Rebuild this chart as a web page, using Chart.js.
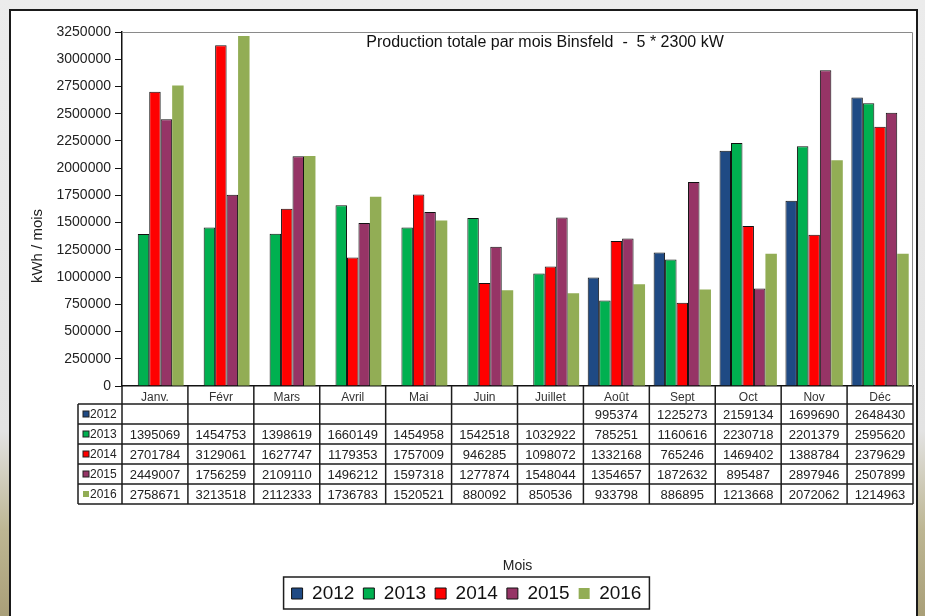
<!DOCTYPE html>
<html lang="fr">
<head>
<meta charset="utf-8">
<title>Production totale par mois Binsfeld</title>
<script src="https://cdn.jsdelivr.net/npm/chart.js@4.4.1/dist/chart.umd.min.js"></script>
<style>
  html, body { margin: 0; padding: 0; }
  body {
    width: 925px; height: 616px; overflow: hidden; position: relative;
    background: linear-gradient(to bottom, #ececec 0%, #e3e3e3 70%, #bdb693 86%, #a99f78 100%);
  }
  #panel {
    position: absolute; left: 9px; top: 9px; width: 905px; height: 620px;
    background: #fff; border: 2px solid #1a1a1a;
  }
  #chart { position: absolute; left: 0; top: 0; }
</style>
</head>
<body>
<div id="panel"></div>
<canvas id="chart" width="925" height="616"></canvas>
<script>
const months = ['Janv.', 'Févr', 'Mars', 'Avril', 'Mai', 'Juin', 'Juillet', 'Août', 'Sept', 'Oct', 'Nov', 'Déc'];
const years = ['2012', '2013', '2014', '2015', '2016'];

const prod2012 = [null, null, null, null, null, null, null, 995374, 1225273, 2159134, 1699690, 2648430];
const prod2013 = [1395069, 1454753, 1398619, 1660149, 1454958, 1542518, 1032922, 785251, 1160616, 2230718, 2201379, 2595620];
const prod2014 = [2701784, 3129061, 1627747, 1179353, 1757009, 946285, 1098072, 1332168, 765246, 1469402, 1388784, 2379629];
const prod2015 = [2449007, 1756259, 2109110, 1496212, 1597318, 1277874, 1548044, 1354657, 1872632, 895487, 2897946, 2507899];
const prod2016 = [2758671, 3213518, 2112333, 1736783, 1520521, 880092, 850536, 933798, 886895, 1213668, 2072062, 1214963];

const yTicksMax = 3250000;
const yTicksStep = 250000;

const chartTitle = 'Production totale par mois Binsfeld  -  5 * 2300 kW';
const yTitle = 'kWh / mois';
const xTitle = 'Mois';

const seriesValues = [prod2012, prod2013, prod2014, prod2015, prod2016];
const seriesColors = ['#1f4a84', '#00b050', '#ff0000', '#963466', '#92ad55'];
const FONT = '"Liberation Sans", Arial, sans-serif';

// table under the plot, title and legend frame
const tablePlugin = {
    id: 'dataTable',
    beforeDatasetsDraw(chart) {
        const { ctx, chartArea: a } = chart;
        ctx.save();
        ctx.strokeStyle = '#8a8a8a';
        ctx.lineWidth = 1;
        ctx.beginPath();
        ctx.moveTo(a.left, a.top + 0.5);
        ctx.lineTo(a.right - 0.5, a.top + 0.5);
        ctx.lineTo(a.right - 0.5, a.bottom);
        ctx.stroke();
        ctx.restore();
    },
    afterDraw(chart) {
        const { ctx, chartArea: a } = chart;
        const x = chart.scales.x;
        const cellW = (a.right - a.left) / months.length;
        const headH = 18;
        const rowH = 20;
        const labelLeft = 78;
        const rowsTop = a.bottom + headH;
        const bottom = rowsTop + rowH * years.length;

        ctx.save();
        ctx.strokeStyle = '#1e1e1e';
        ctx.lineWidth = 1.5;
        ctx.beginPath();
        for (let r = 0; r <= years.length; r++) {
            const y = rowsTop + r * rowH;
            ctx.moveTo(labelLeft, y);
            ctx.lineTo(a.right, y);
        }
        for (let i = 0; i <= months.length; i++) {
            const xx = i < months.length
                ? x.getPixelForValue(i) - cellW / 2
                : x.getPixelForValue(months.length - 1) + cellW / 2;
            ctx.moveTo(xx, a.bottom);
            ctx.lineTo(xx, bottom);
        }
        ctx.moveTo(labelLeft, rowsTop);
        ctx.lineTo(labelLeft, bottom);
        ctx.stroke();

        ctx.textBaseline = 'middle';
        years.forEach((year, r) => {
            const cy = rowsTop + r * rowH + rowH / 2 + 1;
            // small key square
            ctx.fillStyle = seriesColors[r];
            ctx.fillRect(labelLeft + 5, cy - 4, 6, 6);
            if (r < 4) {
                ctx.strokeStyle = '#222';
                ctx.lineWidth = 1;
                ctx.strokeRect(labelLeft + 5, cy - 4, 6, 6);
            }
            ctx.fillStyle = '#222';
            ctx.font = '12px ' + FONT;
            ctx.textAlign = 'left';
            ctx.fillText(year, labelLeft + 12, cy);

            ctx.font = '13px ' + FONT;
            ctx.textAlign = 'center';
            seriesValues[r].forEach((v, i) => {
                if (v === null) return;
                ctx.fillText(String(v), x.getPixelForValue(i), cy);
            });
        });

        // chart title inside the plot
        ctx.fillStyle = '#111';
        ctx.font = '16px ' + FONT;
        ctx.textAlign = 'center';
        ctx.fillText(chartTitle, 545, 43);

        // y axis title
        ctx.save();
        ctx.translate(38, 246);
        ctx.rotate(-Math.PI / 2);
        ctx.font = '15px ' + FONT;
        ctx.fillStyle = '#222';
        ctx.fillText(yTitle, 0, 0);
        ctx.restore();

        // frame round the legend
        const boxes = chart.legend.legendHitBoxes;
        if (boxes && boxes.length) {
            const left = boxes[0].left - 8;
            const last = boxes[boxes.length - 1];
            const right = last.left + last.width + 8;
            ctx.strokeStyle = '#1e1e1e';
            ctx.lineWidth = 1.5;
            ctx.strokeRect(left, 577, right - left, 32);
        }
        ctx.restore();
    }
};

const ctx = document.getElementById('chart').getContext('2d');

new Chart(ctx, {
    type: 'bar',
    data: {
        labels: months,
        datasets: years.map((year, k) => ({
            label: year,
            data: seriesValues[k],
            backgroundColor: seriesColors[k],
            borderColor: '#111',
            borderWidth: k < 4 ? 1 : 0,
            categoryPercentage: 0.87,
            barPercentage: 1
        }))
    },
    options: {
        responsive: false,
        animation: false,
        devicePixelRatio: 1,
        layout: { padding: { left: 20, right: 12, top: 32, bottom: 3 } },
        plugins: {
            title: { display: false },
            tooltip: { enabled: false },
            legend: {
                position: 'bottom',
                labels: {
                    boxWidth: 11,
                    boxHeight: 11,
                    padding: 9,
                    color: '#111',
                    font: { family: FONT, size: 19 }
                }
            }
        },
        scales: {
            x: {
                afterFit(scale) { scale.height = 189; },
                grid: { display: false, drawTicks: false },
                border: { display: true, color: '#111', width: 1.5 },
                ticks: {
                    padding: 4,
                    maxRotation: 0,
                    autoSkip: false,
                    color: '#333',
                    font: { family: FONT, size: 12 }
                },
                title: {
                    display: true,
                    text: xTitle,
                    color: '#222',
                    padding: { top: 0, bottom: 0 },
                    font: { family: FONT, size: 14 }
                }
            },
            y: {
                min: 0,
                max: yTicksMax,
                afterFit(scale) { scale.width = 102; },
                grid: { drawOnChartArea: false, drawTicks: true, tickLength: 7, color: '#111' },
                border: { color: '#111', width: 1.5 },
                ticks: {
                    stepSize: yTicksStep,
                    padding: 4,
                    color: '#222',
                    font: { family: FONT, size: 14 },
                    callback: value => String(value)
                },
                title: { display: false }
            }
        }
    },
    plugins: [tablePlugin]
});
</script>
</body>
</html>
